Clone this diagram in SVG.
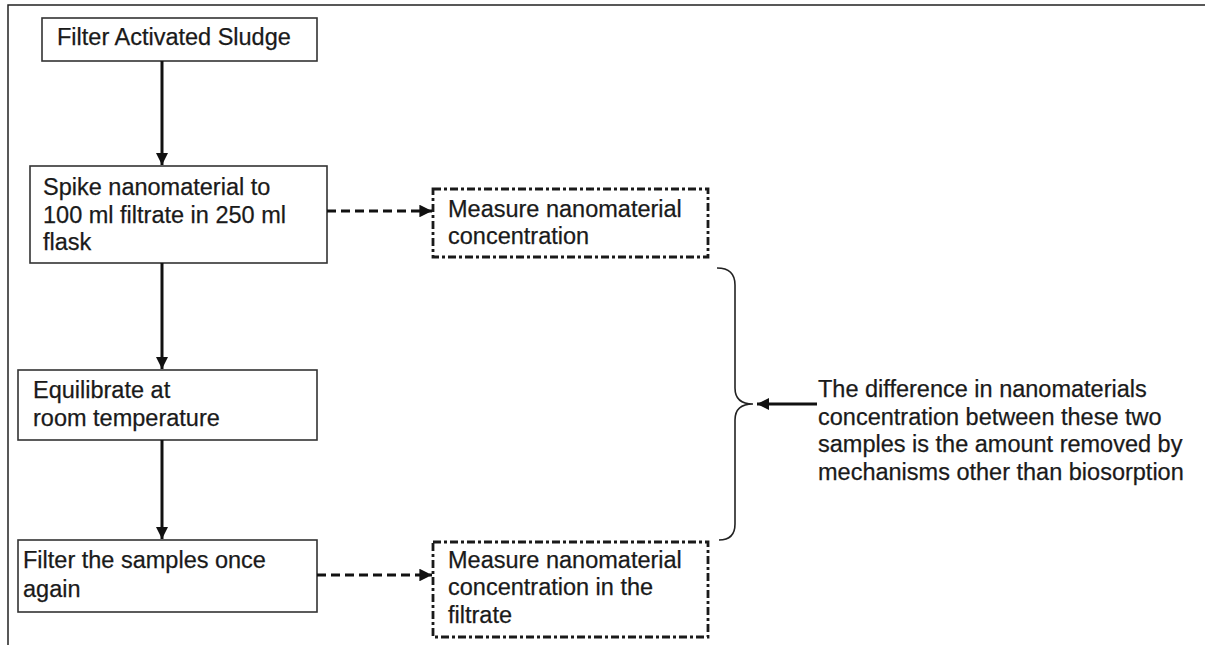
<svg xmlns="http://www.w3.org/2000/svg" width="1205" height="645" viewBox="0 0 1205 645">
<defs>
<style>
.frame{fill:none;stroke:#222;stroke-width:1.5}
.box{fill:#fff;stroke:#333;stroke-width:1.6}
.dbox{fill:#fff;stroke:#1a1a1a;stroke-width:2.8;stroke-dasharray:8 3 3 3}
.t{font-family:"Liberation Sans",Arial,sans-serif;font-size:23.5px;fill:#1a1a1a;stroke:#1a1a1a;stroke-width:0.25}
.solid{fill:none;stroke:#111;stroke-width:3}
.dash{fill:none;stroke:#111;stroke-width:2.8;stroke-dasharray:9 5}
.brace{fill:none;stroke:#222;stroke-width:1.6}
</style>
<marker id="ah" viewBox="0 0 10 10" refX="10" refY="5" markerWidth="4" markerHeight="4" orient="auto" markerUnits="strokeWidth">
<path d="M0,0 L10,5 L0,10 z" fill="#111"/>
</marker>
<marker id="ahd" viewBox="0 0 10 10" refX="10" refY="5" markerWidth="4.5" markerHeight="4.5" orient="auto" markerUnits="strokeWidth">
<path d="M0,0 L10,5 L0,10 z" fill="#111"/>
</marker>
</defs>
<rect width="1205" height="645" fill="#fff"/>
<path class="frame" d="M8,645 V5 H1205"/>

<g id="n1">
<rect class="box" x="42" y="18" width="275" height="43"/>
<text class="t" x="57" y="45">Filter Activated Sludge</text>
</g>
<g id="n2">
<rect class="box" x="30" y="166" width="297" height="97"/>
<text class="t" x="43" y="195">Spike nanomaterial to</text>
<text class="t" x="43" y="223">100 ml filtrate in 250 ml</text>
<text class="t" x="43" y="250">flask</text>
</g>
<g id="n3">
<rect class="dbox" x="433" y="189" width="275" height="68"/>
<text class="t" x="448" y="217">Measure nanomaterial</text>
<text class="t" x="448" y="244">concentration</text>
</g>
<g id="n4">
<rect class="box" x="18" y="370" width="299" height="70"/>
<text class="t" x="33" y="398">Equilibrate at</text>
<text class="t" x="33" y="426">room temperature</text>
</g>
<g id="n5">
<rect class="box" x="18" y="540" width="299" height="72"/>
<text class="t" x="23" y="568">Filter the samples once</text>
<text class="t" x="23" y="597">again</text>
</g>
<g id="n6">
<rect class="dbox" x="433" y="542" width="275" height="95"/>
<text class="t" x="448" y="568">Measure nanomaterial</text>
<text class="t" x="448" y="595">concentration in the</text>
<text class="t" x="448" y="623">filtrate</text>
</g>
<g id="n7">
<text class="t" x="818" y="397">The difference in nanomaterials</text>
<text class="t" x="818" y="425">concentration between these two</text>
<text class="t" x="818" y="452">samples is the amount removed by</text>
<text class="t" x="818" y="480">mechanisms other than biosorption</text>
</g>

<g id="connectors">
<path class="solid" d="M162,61 V165" marker-end="url(#ah)"/>
<path class="solid" d="M162,263 V369" marker-end="url(#ah)"/>
<path class="solid" d="M162,440 V539" marker-end="url(#ah)"/>
<path class="dash" d="M327,211 H432" marker-end="url(#ahd)"/>
<path class="dash" d="M317,575 H432" marker-end="url(#ahd)"/>
<path class="brace" d="M717,268 Q735,268 735,285 V388 Q735,404 753,404 Q735,404 735,420 V524 Q735,540 719,540"/>
<path class="solid" d="M817,404 H757" marker-end="url(#ah)"/>
</g>
</svg>
